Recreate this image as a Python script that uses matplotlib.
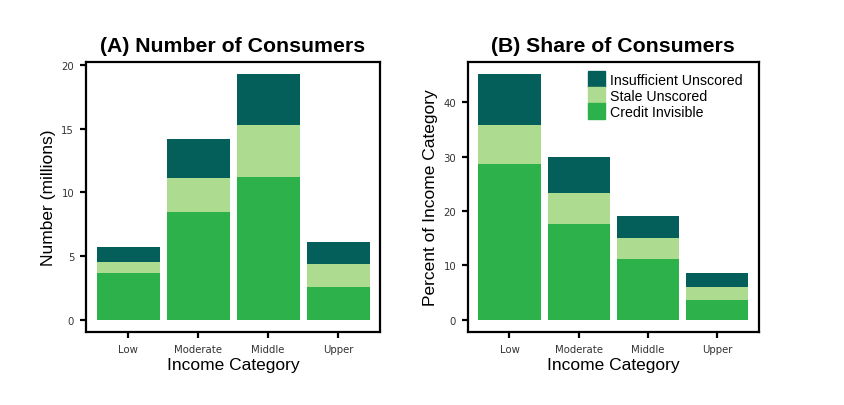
import matplotlib
matplotlib.use('Agg')
import matplotlib.pyplot as plt
import numpy as np
from matplotlib.patches import Patch

plt.rc('font', family=['Liberation Sans', 'DejaVu Sans'])

categories = ['Low', 'Moderate', 'Middle', 'Upper']
series = ['Credit Invisible', 'Stale Unscored', 'Insufficient Unscored']

# panel A: millions of consumers
num_invisible = [3.67, 8.43, 11.18, 2.6]
num_stale = [0.84, 2.67, 4.12, 1.78]
num_insufficient = [1.21, 3.1, 3.97, 1.71]

# panel B: percent of income category
pct_invisible = [28.7, 17.7, 11.1, 3.57]
pct_stale = [7.05, 5.7, 4.0, 2.53]
pct_insufficient = [9.42, 6.5, 3.9, 2.45]

colors = ['#2db14b', '#addc91', '#045f5a']


def stacked(ax, layers, title, ylabel, yticks):
    x = np.arange(len(categories))
    bottom = np.zeros(len(categories))
    for vals, c, lab in zip(layers, colors, series):
        ax.bar(x, vals, width=0.9, bottom=bottom, color=c, label=lab)
        bottom += np.array(vals)
    top = bottom.max()
    ax.set_ylim(-0.05 * top, top * 1.05)
    ax.set_xlim(-0.6, len(categories) - 0.4)
    ax.set_xticks(x)
    ax.set_xticklabels(categories)
    ax.set_yticks(yticks)
    ax.set_title(title, fontsize=15.3, fontweight='bold', pad=8)
    ax.set_xlabel('Income Category', fontsize=12.5, labelpad=2)
    ax.set_ylabel(ylabel, fontsize=12.5, labelpad=4)
    for s in ax.spines.values():
        s.set_linewidth(1.6)
    ax.tick_params(axis='both', length=4.5, width=1.6, labelsize=7.3,
                   colors='black', labelcolor='#333333', pad=4)
    for lbl in ax.get_xticklabels() + ax.get_yticklabels():
        lbl.set_family('DejaVu Sans')


fig = plt.figure(figsize=(8.45, 4.06), dpi=100)
axA = fig.add_axes([0.1018, 0.1798, 0.348, 0.665])
axB = fig.add_axes([0.5538, 0.1798, 0.344, 0.665])

stacked(axA, [num_invisible, num_stale, num_insufficient],
        '(A) Number of Consumers', 'Number (millions)', [0, 5, 10, 15, 20])
stacked(axB, [pct_invisible, pct_stale, pct_insufficient],
        '(B) Share of Consumers', 'Percent of Income Category', [0, 10, 20, 30, 40])

handles = [Patch(color=colors[2]), Patch(color=colors[1]), Patch(color=colors[0])]
axB.legend(handles, ['Insufficient Unscored', 'Stale Unscored', 'Credit Invisible'],
           loc='upper left', frameon=False, fontsize=10.2, handlelength=1.2,
           handleheight=1.38, labelspacing=0, handletextpad=0.35,
           borderpad=0, borderaxespad=0, bbox_to_anchor=(0.412, 0.967))

fig.savefig('out.png', dpi=100, facecolor='white')
